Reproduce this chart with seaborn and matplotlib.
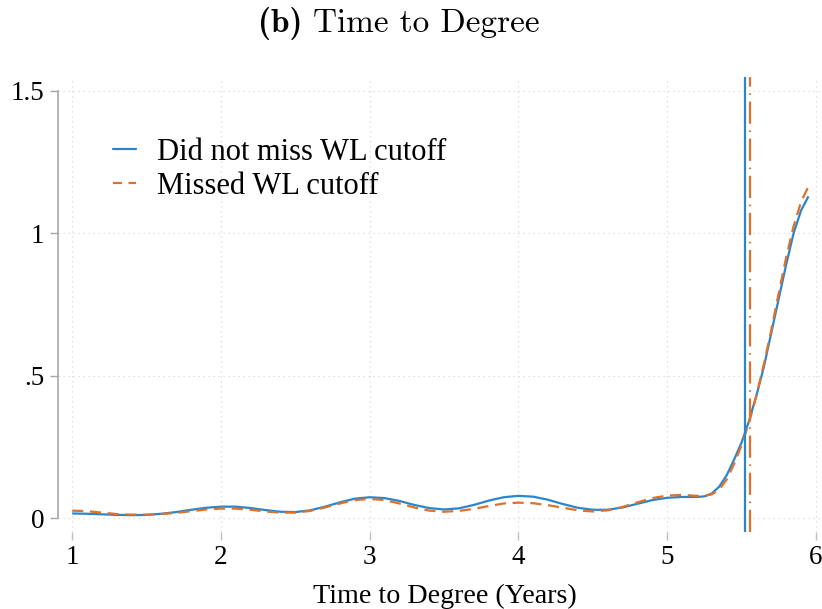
import os
import numpy as np
import pandas as pd
import matplotlib
matplotlib.use("Agg")
import matplotlib.pyplot as plt
from matplotlib.font_manager import FontProperties
from matplotlib.lines import Line2D
import seaborn as sns

# ---- data ----
x_vals = [1.0, 1.1, 1.2, 1.3, 1.4, 1.5, 1.6, 1.7, 1.8, 1.9,
          2.0, 2.1, 2.2, 2.3, 2.4, 2.5, 2.6, 2.7, 2.8, 2.9,
          3.0, 3.1, 3.2, 3.3, 3.4, 3.5, 3.6, 3.7, 3.8, 3.9,
          4.0, 4.1, 4.2, 4.3, 4.4, 4.5, 4.6, 4.7, 4.8, 4.9,
          5.0, 5.1, 5.2, 5.25, 5.3, 5.35, 5.4, 5.45, 5.5, 5.55,
          5.6, 5.65, 5.7, 5.75, 5.8, 5.85, 5.9, 5.95]

did_not_miss = [0.016, 0.015, 0.013, 0.011, 0.010, 0.011, 0.015, 0.021, 0.029, 0.036,
                0.040, 0.040, 0.035, 0.028, 0.022, 0.021, 0.027, 0.040, 0.055, 0.068,
                0.073, 0.070, 0.060, 0.046, 0.035, 0.030, 0.034, 0.046, 0.061, 0.073,
                0.078, 0.075, 0.064, 0.049, 0.036, 0.029, 0.029, 0.037, 0.050, 0.063,
                0.071, 0.074, 0.074, 0.076, 0.086, 0.110, 0.150, 0.205, 0.265, 0.340,
                0.430, 0.530, 0.650, 0.770, 0.890, 1.000, 1.080, 1.130]

missed = [0.026, 0.024, 0.019, 0.014, 0.012, 0.012, 0.014, 0.018, 0.024, 0.030,
          0.033, 0.033, 0.029, 0.023, 0.019, 0.019, 0.025, 0.037, 0.051, 0.063,
          0.067, 0.063, 0.051, 0.037, 0.026, 0.022, 0.025, 0.032, 0.042, 0.051,
          0.054, 0.052, 0.045, 0.036, 0.027, 0.023, 0.027, 0.039, 0.055, 0.070,
          0.079, 0.081, 0.078, 0.078, 0.083, 0.100, 0.135, 0.190, 0.255, 0.335,
          0.430, 0.540, 0.660, 0.790, 0.915, 1.025, 1.110, 1.165]

series_names = ["Did not miss WL cutoff", "Missed WL cutoff"]
cutoff_lines = [5.523, 5.556]   # vertical reference lines
x_ticks = [1, 2, 3, 4, 5, 6]
y_ticks = [0, 0.5, 1, 1.5]
y_tick_labels = ["0", ".5", "1", "1.5"]
title_tag = "(b)"
title_text = "Time to Degree"
x_label = "Time to Degree (Years)"

df = pd.DataFrame({
    "x": x_vals * 2,
    "density": did_not_miss + missed,
    "group": [series_names[0]] * len(x_vals) + [series_names[1]] * len(x_vals),
})

# ---- styling ----
sns.set_theme(style="white")
plt.rcParams["font.family"] = ["Liberation Serif", "DejaVu Serif"]
plt.rcParams["text.color"] = "black"
plt.rcParams["axes.labelcolor"] = "black"
plt.rcParams["xtick.labelcolor"] = "black"
plt.rcParams["ytick.labelcolor"] = "black"

blue = "#2a86c8"
orange = "#e0702a"

fig = plt.figure(figsize=(8.22, 6.09), dpi=100)
ax = fig.add_axes([0.0706, 0.126, 0.9274, 0.748])

sns.lineplot(data=df, x="x", y="density", hue="group", style="group",
             palette=[blue, orange], dashes=[(1, 0), (5, 3)],
             linewidth=1.6, ax=ax, legend=False)

ax.axvline(cutoff_lines[0], color=blue, lw=1.6, zorder=3)
ax.axvline(cutoff_lines[1], color=orange, lw=1.6,
           linestyle=(0, (10, 3, 0.7, 3)), zorder=3)

ax.set_xlim(0.905, 6.03)
ax.set_ylim(-0.05, 1.55)
ax.set_xticks(x_ticks)
ax.set_xticklabels([str(t) for t in x_ticks])
ax.set_yticks(y_ticks)
ax.set_yticklabels(y_tick_labels)

ax.grid(True, color="#d8d8d8", linestyle=(0, (1, 3)), linewidth=0.9)
for s in ["top", "right", "bottom"]:
    ax.spines[s].set_visible(False)
ax.spines["left"].set_color("#a8a8a8")
ax.spines["left"].set_linewidth(1.2)
ax.spines["left"].set_bounds(0, 1.5)

ax.tick_params(axis="y", direction="out", length=6, width=1.0, color="#a8a8a8",
               labelsize=19.5, pad=4, left=True, labelcolor="black")
ax.tick_params(axis="x", direction="out", length=6, width=1.0, color="#c0c0c0",
               labelsize=19.5, pad=3, bottom=True, labelcolor="black")

ax.set_xlabel(x_label, fontsize=20.2, color="black")
ax.xaxis.set_label_coords(0.508, -0.113)
ax.set_ylabel("")

# legend
handles = [Line2D([0], [0], color=blue, lw=1.6),
           Line2D([0], [0], color=orange, lw=1.6, linestyle=(0, (4, 3)))]
leg = ax.legend(handles, series_names, loc="upper left", bbox_to_anchor=(0.056, 0.892),
                borderaxespad=0, frameon=False, fontsize=22, handlelength=0.75,
                handletextpad=0.7, labelspacing=0.15)
for t in leg.get_texts():
    t.set_color("black")

# title in Computer Modern (bundled with matplotlib)
ttf_dir = os.path.join(matplotlib.get_data_path(), "fonts", "ttf")
fp_bold = FontProperties(fname=os.path.join(ttf_dir, "cmb10.ttf"), size=24)
fp_reg = FontProperties(fname=os.path.join(ttf_dir, "cmr10.ttf"), size=24)

renderer = fig.canvas.get_renderer()
t1 = fig.text(0, 0, title_tag + " ", fontproperties=fp_bold, va="center", color="black")
t2 = fig.text(0, 0, title_text, fontproperties=fp_reg, va="center", color="black")
w1 = t1.get_window_extent(renderer).width
w2 = t2.get_window_extent(renderer).width
fw = fig.get_figwidth() * fig.dpi
x0 = (fw - (w1 + w2)) / 2 / fw - 12 / fw
t1.set_position((x0, 0.962))
t2.set_position((x0 + w1 / fw, 0.962))

fig.savefig("out.png", dpi=100)
